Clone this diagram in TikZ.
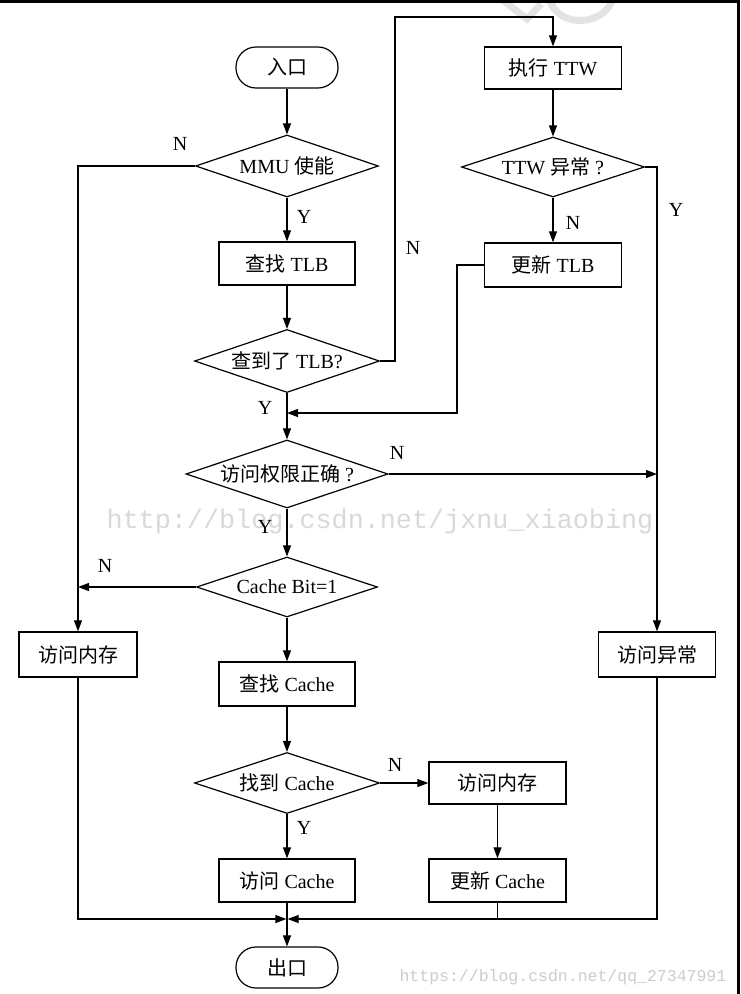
\documentclass[tikz,border=0pt]{standalone}
\usepackage{fontspec}
\setmainfont{Liberation Serif}
\newfontfamily\cjk{Noto Sans CJK SC}
\newfontfamily\wm{Liberation Mono}
\usetikzlibrary{shapes.geometric,arrows.meta}
\begin{document}
\begin{tikzpicture}[x=1pt,y=-1pt,
  line width=1.1pt,
  every node/.style={font=\fontsize{20}{22}\selectfont},
  box/.style={draw,line width=1.4pt,rectangle,minimum width=136pt,minimum height=43pt,inner sep=0pt},
  term/.style={draw,line width=1.2pt,rectangle,rounded corners=20pt,minimum width=102pt,minimum height=41pt,inner sep=0pt},
  dia/.style 2 args={draw,line width=1.2pt,diamond,inner sep=0pt,shape aspect=3,minimum width=#1,minimum height=#2},
  arr/.style={-{Triangle[length=11pt,width=8pt]}},
  lbl/.style={font=\fontsize{20}{22}\selectfont}]
\fill[white] (0,0) rectangle (740,994);
\useasboundingbox (0,0) rectangle (740,994);
% watermark fragments and frame
\draw[gray!22, line width=7pt] (500,-2) -- (527,19) -- (541,4);
\draw[gray!22, line width=7pt] (549,-2) .. controls (556,28) and (604,28) .. (613,-2);
\fill[black] (0,0) rectangle (740,2.5);
\fill[black] (737,0) rectangle (740,994);
\node[text=gray!30, font=\wm\fontsize{26.8}{28}\selectfont, anchor=base west, inner sep=0pt] (wm1) at (106,528) {http://blog.csdn.net/jxnu\_xiaobing};
\node[text=gray!40, font=\wm\fontsize{16.5}{18}\selectfont, anchor=base west, inner sep=0pt] (wm2) at (399,981) {https://blog.csdn.net/qq\_27347991};

% nodes
\node[term] (start) at (287,67.5) {\cjk 入口};
\node[dia={183pt}{62pt}] (mmu) at (287,166) {MMU {\cjk 使能}};
\node[box] (tlb) at (287,263.5) {{\cjk 查找} TLB};
\node[dia={185pt}{63pt}] (hit) at (287,361) {{\cjk 查到了} TLB?};
\node[dia={202pt}{68pt}] (perm) at (287,474) {{\cjk 访问权限正确} ?};
\node[dia={181pt}{60pt}] (cbit) at (287,587) {Cache Bit=1};
\node[box,minimum height=44pt] (fcache) at (287,684) {{\cjk 查找} Cache};
\node[dia={185pt}{61pt}] (found) at (287,783) {{\cjk 找到} Cache};
\node[box] (acache) at (287,880.5) {{\cjk 访问} Cache};
\node[term] (exit) at (287,967.5) {\cjk 出口};

\node[box,minimum width=137pt,minimum height=42pt] (ttw) at (553,68) {{\cjk 执行} TTW};
\node[dia={183pt}{60pt}] (ttwx) at (553,167) {TTW {\cjk 异常} ?};
\node[box,minimum width=137pt,minimum height=44pt] (utlb) at (553,265) {{\cjk 更新} TLB};

\node[box,minimum width=118pt,minimum height=45pt] (mem1) at (78,654.5) {\cjk 访问内存};
\node[box,minimum width=117pt,minimum height=45pt] (fault) at (657,654.5) {\cjk 访问异常};
\node[box,minimum width=137pt,minimum height=42pt] (mem2) at (497.5,783) {\cjk 访问内存};
\node[box,minimum width=137pt,minimum height=43pt] (ucache) at (497.5,880.5) {{\cjk 更新} Cache};

% helper coordinates
\coordinate (c1) at (395,17);
\coordinate (c2) at (457,413);
\coordinate (j1) at (287,413);
\coordinate (j2) at (657,474);
\coordinate (j3) at (78,587);
\coordinate (m) at (287,919);

% connectors
\draw[arr] (start) -- (mmu);
\draw[arr] (mmu) -- (tlb);
\draw[arr] (tlb) -- (hit);
\draw[arr] (hit) -- (perm);
\draw[arr] (hit.east) -| (c1) -| (ttw.north);
\draw[arr] (ttw) -- (ttwx);
\draw[arr] (ttwx) -- (utlb);
\draw[arr] (utlb.west) -| (c2) -- (j1);
\draw[arr] (ttwx.east) -| (fault.north);
\draw[arr] (perm.east) -- (j2);
\draw[arr] (perm) -- (cbit);
\draw[arr] (mmu.west) -| (mem1.north);
\draw[arr] (cbit.west) -- (j3);
\draw[arr] (cbit) -- (fcache);
\draw[arr] (fcache) -- (found);
\draw[arr] (found) -- (acache);
\draw[arr] (found.east) -- (mem2.west);
\draw[arr] (mem2) -- (ucache);
\draw[arr] (acache) -- (exit);
\draw[arr, shorten >=0.6pt] (mem1.south) |- (m);
\draw[arr, shorten >=0.6pt] (fault.south) |- (m);
\draw (ucache.south) -- (ucache.south |- m);

% labels
\node[lbl] (lN1) at (180,144) {N};
\node[lbl] (lY1) at (304,217) {Y};
\node[lbl] (lN2) at (413,248) {N};
\node[lbl] (lN3) at (573,223) {N};
\node[lbl] (lY2) at (676,210) {Y};
\node[lbl] (lY3) at (265,408) {Y};
\node[lbl] (lN4) at (397,453) {N};
\node[lbl] (lY4) at (265,527) {Y};
\node[lbl] (lN5) at (105,566) {N};
\node[lbl] (lN6) at (395,765) {N};
\node[lbl] (lY5) at (304,828) {Y};
\end{tikzpicture}
\end{document}
